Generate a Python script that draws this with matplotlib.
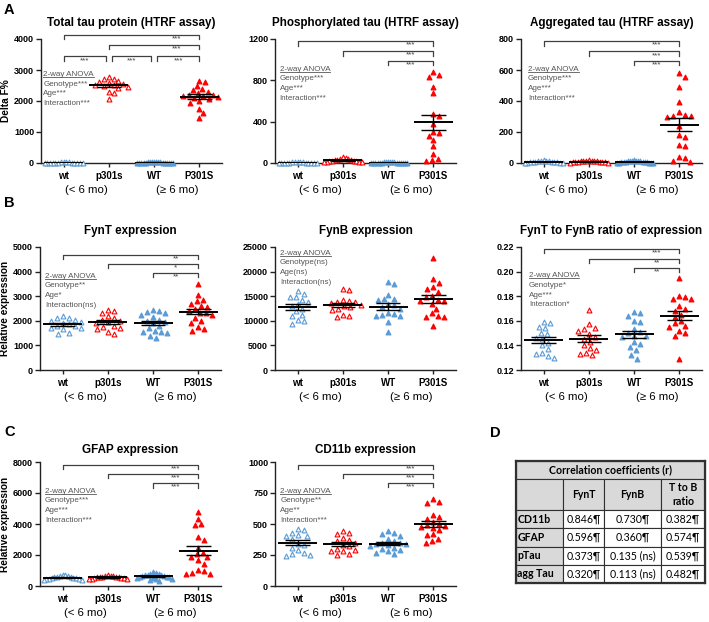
import numpy as np
import matplotlib
matplotlib.use("Agg")
import matplotlib.pyplot as plt
from matplotlib.lines import Line2D

plt.rcParams['font.family'] = ['Liberation Sans', 'DejaVu Sans']

groups = ["wt", "p301s", "WT", "P301S"]
ages = ["(< 6 mo)", "(\u2265 6 mo)"]
BLUE = "#5b9bd5"
RED = "#ff0000"
colors = [BLUE, RED, BLUE, RED]
filled = [False, False, True, True]

# ---- data ----
tau_total = [
    [30, 25, 20, 18, 15, 12, 10, 8, 6, 5, 4, 3, 2, 1, 0],
    [2780, 2720, 2700, 2650, 2620, 2580, 2560, 2530, 2500, 2480, 2460, 2420, 2300, 2250, 2080],
    [40, 35, 30, 25, 22, 20, 18, 15, 12, 10, 8, 6, 5, 4, 3, 2, 1, 0],
    [2650, 2600, 2480, 2400, 2350, 2300, 2250, 2200, 2180, 2150, 2150, 2130, 2100, 2050, 2000, 1950, 1750, 1600, 1450],
]
tau_phos = [
    [8, 7, 6, 5, 5, 4, 4, 3, 3, 2, 2, 1, 1, 0, 0],
    [60, 45, 40, 35, 30, 28, 25, 22, 20, 18, 15, 12, 10, 8, 5],
    [9, 8, 7, 6, 5, 5, 4, 4, 3, 3, 2, 2, 1, 1, 0, 0, 0, 0],
    [880, 850, 830, 740, 680, 470, 450, 380, 300, 290, 260, 220, 160, 90, 40, 25, 20],
]
tau_agg = [
    [17, 15, 14, 12, 10, 9, 8, 7, 6, 5, 4, 3, 2, 1, 0],
    [18, 16, 15, 14, 12, 11, 10, 9, 8, 7, 6, 5, 4, 3, 2],
    [17, 16, 15, 14, 12, 11, 10, 9, 8, 7, 6, 5, 4, 3, 2, 1, 0.5, 0],
    [580, 555, 490, 395, 330, 310, 305, 300, 295, 240, 180, 170, 115, 110, 40, 35, 15, 5],
]
fynt = [
    [2180, 2120, 2100, 2050, 1980, 1950, 1900, 1850, 1800, 1780, 1720, 1700, 1650, 1500, 1480],
    [2450, 2380, 2300, 2200, 2100, 2050, 2000, 1950, 1900, 1800, 1750, 1700, 1650, 1550, 1480],
    [2420, 2400, 2350, 2300, 2250, 2150, 2050, 2000, 1950, 1900, 1800, 1700, 1600, 1550, 1550, 1500, 1400, 1300],
    [3500, 3050, 2850, 2800, 2700, 2600, 2550, 2500, 2400, 2300, 2300, 2250, 2100, 2000, 1900, 1750, 1650, 1600],
]
fynb = [
    [16100, 15500, 14900, 14800, 14300, 13800, 13400, 13000, 12500, 12000, 11200, 11000, 10100, 10000, 9300],
    [16500, 16200, 14200, 14000, 13900, 13800, 13600, 13200, 13000, 12800, 12400, 12200, 11200, 11000, 10700],
    [17800, 17400, 15300, 14500, 14400, 14300, 13500, 13200, 12800, 12500, 11600, 11300, 11100, 11000, 10900, 9700, 7800],
    [22800, 18400, 17600, 16800, 16500, 15800, 15000, 14800, 14300, 14100, 14000, 13500, 12500, 11500, 11000, 10800, 10800, 9000],
]
ratio = [
    [0.159, 0.158, 0.155, 0.154, 0.150, 0.149, 0.146, 0.145, 0.142, 0.140, 0.137, 0.134, 0.133, 0.131, 0.130],
    [0.169, 0.157, 0.154, 0.153, 0.152, 0.149, 0.147, 0.145, 0.143, 0.140, 0.138, 0.136, 0.134, 0.133, 0.132],
    [0.167, 0.166, 0.164, 0.160, 0.159, 0.153, 0.151, 0.150, 0.148, 0.148, 0.147, 0.143, 0.141, 0.139, 0.136, 0.132, 0.129],
    [0.195, 0.180, 0.179, 0.178, 0.178, 0.172, 0.170, 0.168, 0.165, 0.163, 0.160, 0.158, 0.156, 0.155, 0.152, 0.150, 0.148, 0.129],
]
gfap = [
    [700, 680, 650, 620, 600, 580, 560, 540, 520, 500, 480, 450, 420, 400, 380],
    [680, 660, 640, 620, 600, 580, 570, 560, 550, 530, 510, 500, 480, 470, 450],
    [900, 850, 800, 750, 720, 700, 680, 650, 630, 600, 580, 560, 540, 500, 480, 450, 400, 300],
    [4800, 4350, 4000, 3950, 3150, 2950, 2450, 2150, 2050, 1900, 1850, 1650, 1450, 1050, 1000, 850, 800, 750],
]
cd11b = [
    [460, 450, 430, 410, 405, 400, 380, 340, 330, 310, 290, 270, 260, 250, 245],
    [440, 430, 420, 390, 370, 360, 350, 330, 320, 300, 290, 285, 280, 260, 250],
    [440, 430, 420, 400, 380, 360, 350, 345, 340, 340, 330, 320, 310, 300, 290, 280, 270, 260],
    [700, 680, 670, 570, 560, 540, 520, 500, 490, 480, 475, 470, 450, 420, 410, 380, 360, 350],
]

table_header = ["", "FynT", "FynB", "T to B\nratio"]
table_rows = ["CD11b", "GFAP", "pTau", "agg Tau"]
r_fynt = ["0.846\u00b6", "0.596\u00b6", "0.373\u00b6", "0.320\u00b6"]
r_fynb = ["0.730\u00b6", "0.360\u00b6", "0.135 (ns)", "0.113 (ns)"]
r_ratio = ["0.382\u00b6", "0.574\u00b6", "0.539\u00b6", "0.482\u00b6"]

W, H = 709, 622
fig = plt.figure(figsize=(W / 100, H / 100), dpi=100)
fig.patch.set_facecolor("white")
GRAY = "#404040"
underline_texts = []


def swarm_x(vals, lo, hi, h_px=124.0, unit_px=45.3, d=6.0, cap=19.0):
    y = (np.asarray(vals, float) - lo) / (hi - lo) * h_px
    x = np.zeros(len(y))
    done = []
    for i in np.argsort(-y):
        hit = 0.0
        for k in range(300):
            cands = [0.0] if k == 0 else [k * 1.5, -k * 1.5]
            ok = False
            for c in cands:
                if all((c - px) ** 2 + (y[i] - py) ** 2 >= d * d for px, py in done):
                    hit = c
                    ok = True
                    break
            if ok:
                break
        x[i] = hit
        done.append((hit, y[i]))
    m = np.abs(x).max()
    if m > cap:
        x = x * cap / m
    return x / unit_px


def panel(left, top, height, vals_list, ylim, yticks, title, anova, apos,
          brackets, ylabel=None, tpad=9.5, fmt="%d"):
    ax = fig.add_axes([left / W, 1 - (top + height) / H, 181 / W, height / H])
    lo, hi = ylim
    for i, vals in enumerate(vals_list):
        v = np.asarray(vals, float)
        off = swarm_x(v, lo, hi, h_px=height)
        fc = colors[i] if filled[i] else "white"
        ax.scatter(i + off, v, marker="^", s=12, facecolors=fc, edgecolors=colors[i],
                   linewidths=0.8, zorder=3, clip_on=False)
        m = v.mean()
        se = v.std(ddof=1) / np.sqrt(len(v))
        ax.hlines(m, i - 0.43, i + 0.43, color="black", lw=1.4, zorder=4)
        ax.hlines([m - se, m + se], i - 0.27, i + 0.27, color="black", lw=1.0, zorder=4)
        ax.vlines(i, m - se, m + se, color="black", lw=1.0, zorder=4)

    ax.set_xlim(-0.5, 3.5)
    ax.set_ylim(lo, hi)
    ax.set_yticks(yticks)
    ax.set_yticklabels([fmt % t for t in yticks])
    ax.set_xticks(range(4))
    ax.set_xticklabels(groups)
    for s in ["top", "right"]:
        ax.spines[s].set_visible(False)
    for s in ["left", "bottom"]:
        ax.spines[s].set_linewidth(1.0)
        ax.spines[s].set_color("#222222")
    ax.tick_params(axis="y", length=3.5, width=1.0, pad=1.5, labelsize=6.5, color="#222222")
    ax.tick_params(axis="x", length=3, width=1.0, pad=3, labelsize=7, color="#222222")
    for lab in ax.get_xticklabels() + ax.get_yticklabels():
        lab.set_fontweight("bold")
    ax.set_title(title, fontsize=8.4, fontweight="bold", pad=tpad)
    if ylabel:
        ax.set_ylabel(ylabel, fontsize=7.3, fontweight="bold", labelpad=2)

    for k, txt in enumerate(ages):
        ax.annotate(txt, xy=(0.5 + 2 * k, 0), xycoords=ax.get_xaxis_transform(),
                    xytext=(0, -19.5), textcoords="offset points",
                    ha="center", va="center", fontsize=8.2)

    rng = hi - lo
    for l, r, y, stars in brackets:
        t = 0.035 * rng
        ax.plot([l, l, r, r], [y - t, y, y, y - t], color=GRAY, lw=0.9, clip_on=False)
        sx = (l + r) / 2 if r - l < 1.5 else r - 0.5
        ax.text(sx, y - 0.004 * rng, stars, ha="center", va="top", fontsize=5.8, color=GRAY)

    x0, y0 = apos
    for k, line in enumerate(anova):
        t = ax.text(x0, y0 - k * 0.079, line, transform=ax.transAxes, ha="left",
                    va="center", fontsize=5.8, color="#555555")
        if k == 0:
            underline_texts.append(t)
    return ax


panel(41, 39, 124, tau_total, (0, 4000), [0, 1000, 2000, 3000, 4000],
      "Total tau protein (HTRF assay)",
      ["2-way ANOVA", "Genotype***", "Age***", "Interaction***"], (0.012, 0.715),
      [(0, 3, 4130, "***"), (1, 3, 3816, "***"), (0, 0.94, 3437, "***"),
       (1.06, 1.94, 3437, "***"), (2.06, 3, 3437, "***")], ylabel="Delta F%")
panel(275, 39, 124, tau_phos, (0, 1200), [0, 400, 800, 1200],
      "Phosphorylated tau (HTRF assay)",
      ["2-way ANOVA", "Genotype***", "Age***", "Interaction***"], (0.026, 0.758),
      [(0, 3, 1177, "***"), (1, 3, 1081, "***"), (2, 3, 990, "***")])
panel(521, 39, 124, tau_agg, (0, 800), [0, 200, 400, 600, 800],
      "Aggregated tau (HTRF assay)",
      ["2-way ANOVA", "Genotype***", "Age***", "Interaction***"], (0.038, 0.758),
      [(0, 3, 785, "***"), (1, 3, 720, "***"), (2, 3, 659, "***")])

panel(40, 247, 123, fynt, (0, 5000), [0, 1000, 2000, 3000, 4000, 5000],
      "FynT expression",
      ["2-way ANOVA", "Genotype**", "Age*", "Interaction(ns)"], (0.028, 0.764),
      [(0, 3, 4689, "**"), (1, 3, 4322, "*"), (2, 3, 3941, "**")], ylabel="Relative expression")
panel(275, 247, 123, fynb, (0, 25000), [0, 5000, 10000, 15000, 20000, 25000],
      "FynB expression",
      ["2-way ANOVA", "Genotype(ns)", "Age(ns)", "Interaction(ns)"], (0.027, 0.95), [])
panel(521, 247, 123, ratio, (0.12, 0.22), [0.12, 0.14, 0.16, 0.18, 0.20, 0.22],
      "FynT to FynB ratio of expression",
      ["2-way ANOVA", "Genotype*", "Age***", "Interaction*"], (0.043, 0.766),
      [(0, 3, 0.2186, "***"), (1, 3, 0.2104, "**"), (2, 3, 0.2028, "**")], fmt="%.2f")

panel(40, 462, 124, gfap, (0, 8000), [0, 2000, 4000, 6000, 8000],
      "GFAP expression",
      ["2-way ANOVA", "Genotype***", "Age***", "Interaction***"], (0.028, 0.766),
      [(0, 3, 7819, "***"), (1, 3, 7236, "***"), (2, 3, 6631, "***")],
      ylabel="Relative expression", tpad=6.5)
panel(275, 462, 124, cd11b, (0, 1000), [0, 250, 500, 750, 1000],
      "CD11b expression",
      ["2-way ANOVA", "Genotype**", "Age**", "Interaction***"], (0.03, 0.766),
      [(0, 3, 978, "***"), (1, 3, 905, "***"), (2, 3, 830, "***")], tpad=6.5)

# panel letters
for lab, x, y in [("A", 4, 10), ("B", 4, 203), ("C", 4, 432), ("D", 490, 433)]:
    fig.text(x / W, 1 - y / H, lab, fontsize=10.5, fontweight="bold", va="center", ha="left")

# ---- table D ----
tx = fig.add_axes([516 / W, 1 - 583 / H, 189 / W, 122 / H])
tx.set_xticks([])
tx.set_yticks([])
for s in tx.spines.values():
    s.set_linewidth(1.6)
    s.set_color("#303030")
tx.set_zorder(5)

LG = "#d9d9d9"
hdr = tx.table(cellText=[["Correlation coefficients (r)"]], cellColours=[[LG]],
               cellLoc="center", bbox=[0, 104 / 122, 1, 18 / 122])
hdr.auto_set_font_size(False)
hdr.set_fontsize(7.6)
c = hdr[(0, 0)]
c.get_text().set_fontweight("bold")
c.get_text().set_fontfamily(["Lato", "DejaVu Sans"])
c.set_edgecolor("#303030")
c.set_linewidth(0.8)

cells = [table_header] + [[table_rows[i], r_fynt[i], r_fynb[i], r_ratio[i]] for i in range(4)]
cols = [[LG, LG, LG, LG]] + [[LG, "white", "white", "white"] for _ in range(4)]
body = tx.table(cellText=cells, cellColours=cols, colWidths=[47, 41, 57, 44],
                cellLoc="center", bbox=[0, 0, 1, 104 / 122])
body.auto_set_font_size(False)
body.set_fontsize(7.6)
for (r, cc), cell in body.get_celld().items():
    cell.set_edgecolor("#303030")
    cell.set_linewidth(0.8)
    cell.get_text().set_fontfamily(["Lato", "DejaVu Sans"])
    if r == 0:
        cell.set_height(cell.get_height() * 31 / 18)
        cell.get_text().set_fontweight("bold")
        cell.get_text().set_linespacing(1.3)
    if cc == 0 and r > 0:
        cell.get_text().set_fontweight("bold")
        cell.get_text().set_ha("left")
        cell._loc = "left"
        cell.PAD = 0.03

# underline "2-way ANOVA"
fig.canvas.draw()
for t in underline_texts:
    bb = t.get_window_extent()
    y = (bb.y0 + 1.0) / fig.bbox.height
    fig.add_artist(Line2D([bb.x0 / fig.bbox.width, bb.x1 / fig.bbox.width], [y, y],
                          transform=fig.transFigure, color="#555555", lw=0.6))

fig.savefig("out.png", dpi=100)
